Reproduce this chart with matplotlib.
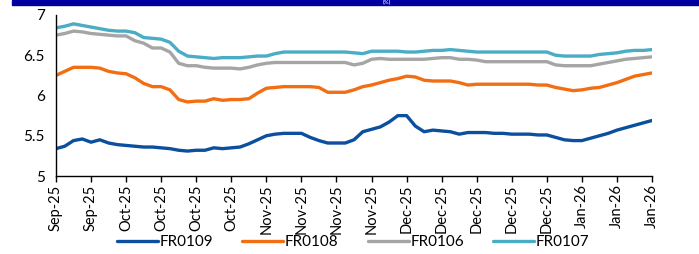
import numpy as np
import matplotlib
matplotlib.use("Agg")
import matplotlib.pyplot as plt
from matplotlib.patches import Rectangle

plt.rcParams['font.family'] = ['Lato', 'DejaVu Sans']

tick_labels = ["Sep-25", "Sep-25", "Oct-25", "Oct-25", "Oct-25", "Oct-25",
               "Nov-25", "Nov-25", "Nov-25", "Nov-25", "Dec-25", "Dec-25",
               "Dec-25", "Dec-25", "Dec-25", "Jan-26", "Jan-26", "Jan-26"]

fr0109 = [5.34, 5.37, 5.44, 5.46, 5.42, 5.45, 5.41, 5.39, 5.38, 5.37,
          5.36, 5.36, 5.35, 5.34, 5.32, 5.31, 5.32, 5.32, 5.35, 5.34,
          5.35, 5.36, 5.40, 5.45, 5.50, 5.52, 5.53, 5.53, 5.53, 5.48,
          5.44, 5.41, 5.41, 5.41, 5.45, 5.55, 5.58, 5.61, 5.67, 5.75,
          5.75, 5.62, 5.55, 5.57, 5.56, 5.55, 5.52, 5.54, 5.54, 5.54,
          5.53, 5.53, 5.52, 5.52, 5.52, 5.51, 5.51, 5.48, 5.45, 5.44,
          5.44, 5.47, 5.50, 5.53, 5.57, 5.60, 5.63, 5.66, 5.69]

fr0108 = [6.25, 6.30, 6.35, 6.35, 6.35, 6.34, 6.30, 6.28, 6.27, 6.22,
          6.15, 6.11, 6.11, 6.07, 5.95, 5.92, 5.93, 5.93, 5.96, 5.94,
          5.95, 5.95, 5.96, 6.03, 6.09, 6.10, 6.11, 6.11, 6.11, 6.11,
          6.10, 6.04, 6.04, 6.04, 6.07, 6.11, 6.13, 6.16, 6.19, 6.21,
          6.24, 6.23, 6.19, 6.18, 6.18, 6.18, 6.16, 6.13, 6.14, 6.14,
          6.14, 6.14, 6.14, 6.14, 6.14, 6.13, 6.13, 6.10, 6.08, 6.06,
          6.07, 6.09, 6.10, 6.13, 6.16, 6.20, 6.24, 6.26, 6.28]

fr0106 = [6.75, 6.77, 6.80, 6.79, 6.77, 6.76, 6.75, 6.74, 6.74, 6.68,
          6.65, 6.59, 6.59, 6.54, 6.40, 6.37, 6.37, 6.35, 6.34, 6.34,
          6.34, 6.33, 6.35, 6.38, 6.40, 6.41, 6.41, 6.41, 6.41, 6.41,
          6.41, 6.41, 6.41, 6.41, 6.38, 6.40, 6.45, 6.46, 6.45, 6.45,
          6.45, 6.45, 6.45, 6.46, 6.47, 6.47, 6.45, 6.45, 6.44, 6.42,
          6.42, 6.42, 6.42, 6.42, 6.42, 6.42, 6.42, 6.38, 6.37, 6.37,
          6.37, 6.37, 6.39, 6.41, 6.43, 6.45, 6.46, 6.47, 6.48]

fr0107 = [6.84, 6.86, 6.89, 6.87, 6.85, 6.83, 6.81, 6.80, 6.80, 6.78,
          6.72, 6.71, 6.70, 6.66, 6.55, 6.49, 6.48, 6.47, 6.46, 6.47,
          6.47, 6.47, 6.48, 6.49, 6.49, 6.52, 6.54, 6.54, 6.54, 6.54,
          6.54, 6.54, 6.54, 6.54, 6.53, 6.52, 6.55, 6.55, 6.55, 6.55,
          6.54, 6.54, 6.55, 6.56, 6.56, 6.57, 6.56, 6.55, 6.54, 6.54,
          6.54, 6.54, 6.54, 6.54, 6.54, 6.54, 6.54, 6.50, 6.49, 6.49,
          6.49, 6.49, 6.51, 6.52, 6.53, 6.55, 6.56, 6.56, 6.57]

series = [("FR0109", fr0109, "#0B4F9E"),
          ("FR0108", fr0108, "#F26E12"),
          ("FR0106", fr0106, "#A5A5A5"),
          ("FR0107", fr0107, "#4BACC6")]

fig = plt.figure(figsize=(6.99, 2.54), dpi=100)
ax = fig.add_axes([0.0801, 0.307, 0.8527, 0.634])

x = np.arange(len(fr0109))
for name, vals, col in series:
    ax.plot(x, vals, color=col, lw=2.4, label=name, solid_capstyle="round")

ax.set_xlim(0, len(x) - 1)
ax.set_ylim(5, 7)
ax.set_yticks([5, 5.5, 6, 6.5, 7])
ax.set_yticklabels(["5", "5.5", "6", "6.5", "7"])
step = (len(x) - 1) / (len(tick_labels) - 1)
ax.set_xticks(np.arange(len(tick_labels)) * step)
ax.set_xticklabels(tick_labels, rotation=90)

ax.spines["top"].set_visible(False)
ax.spines["right"].set_visible(False)
ax.spines["left"].set_linewidth(1.0)
ax.spines["bottom"].set_linewidth(1.0)
ax.tick_params(axis="y", length=0, labelsize=11, pad=8)
ax.tick_params(axis="x", direction="out", length=4, width=1, labelsize=10.5, pad=2)

fig.legend(loc="center", bbox_to_anchor=(0.505, 0.047), ncol=4, frameon=False,
           fontsize=11, handlelength=2.7, columnspacing=1.9, handletextpad=0.1)

# title band at the top
fig.patches.append(Rectangle((12 / 699, 1 - 5 / 254), 1, 5 / 254,
                             transform=fig.transFigure, color="#0000A0", zorder=5))
fig.text(387 / 699, 0.999, "(%)", color="white", ha="center", va="top",
         fontsize=4.5, zorder=6)

fig.savefig("out.png", dpi=100)
